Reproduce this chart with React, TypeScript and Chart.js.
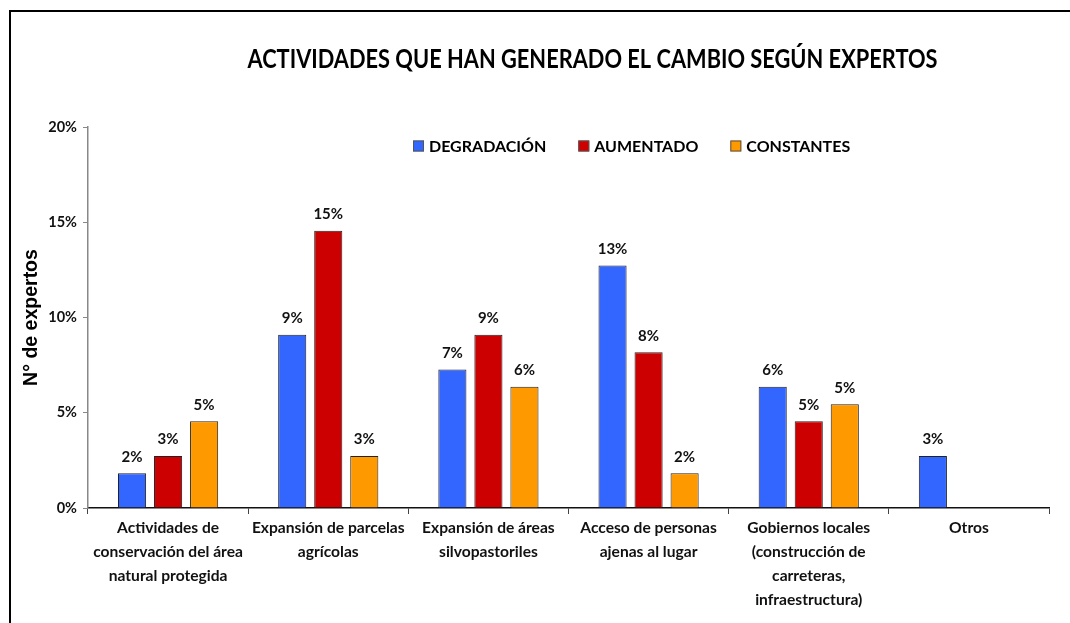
import React, { useEffect, useRef } from "react";
import { Chart, registerables } from "chart.js";

Chart.register(...registerables);

const TITLE = "ACTIVIDADES QUE HAN GENERADO EL CAMBIO SEGÚN EXPERTOS";
const Y_TITLE = "N° de expertos";

const categories: string[][] = [
  ["Actividades de", "conservación del área", "natural protegida"],
  ["Expansión de parcelas", "agrícolas"],
  ["Expansión de áreas", "silvopastoriles"],
  ["Acceso de personas", "ajenas al lugar"],
  ["Gobiernos locales", "(construcción de", "carreteras,", "infraestructura)"],
  ["Otros"],
];

const seriesNames = ["DEGRADACIÓN", "AUMENTADO", "CONSTANTES"];
const seriesColors = ["#3366FF", "#CC0000", "#FF9900"];

const degradacion: (number | null)[] = [1.82, 9.09, 7.27, 12.73, 6.36, 2.73];
const aumentado: (number | null)[] = [2.73, 14.55, 9.09, 8.18, 4.55, null];
const constantes: (number | null)[] = [4.55, 2.73, 6.36, 1.82, 5.45, null];

const yTicks = [0, 5, 10, 15, 20];

const CAL = "Lato, 'Open Sans', sans-serif";

const labelsPlugin = {
  id: "barLabels",
  afterDatasetsDraw(chart: any) {
    const ctx = chart.ctx;
    ctx.save();
    ctx.font = `bold 15px ${CAL}`;
    ctx.fillStyle = "#111";
    ctx.textAlign = "center";
    ctx.textBaseline = "bottom";
    chart.data.datasets.forEach((ds: any, i: number) => {
      const meta = chart.getDatasetMeta(i);
      meta.data.forEach((bar: any, j: number) => {
        const v = ds.data[j];
        if (v === null || v === undefined) return;
        ctx.fillText(Math.round(v) + "%", bar.x, bar.y - 9);
      });
    });
    ctx.restore();
  },
  afterDraw(chart: any) {
    const ctx = chart.ctx;
    const area = chart.chartArea;
    ctx.save();
    // Title (condensed to match the reference width)
    ctx.font = `bold 26px ${CAL}`;
    ctx.fillStyle = "#000";
    ctx.textAlign = "center";
    ctx.textBaseline = "middle";
    const tw = ctx.measureText(TITLE).width;
    const sx = 690 / tw;
    const cx = area.left + (area.right - area.left) * 0.525;
    ctx.translate(cx, 60);
    ctx.scale(sx, 1);
    ctx.fillText(TITLE, 0, 0);
    ctx.setTransform(1, 0, 0, 1, 0, 0);
    // Legend
    ctx.font = `bold 16px ${CAL}`;
    ctx.textAlign = "left";
    let x = area.left + 325;
    const y = area.top + 19;
    chart.data.datasets.forEach((ds: any) => {
      ctx.fillStyle = ds.backgroundColor;
      ctx.fillRect(x, y - 5.5, 11, 11);
      ctx.strokeStyle = "#555";
      ctx.lineWidth = 1;
      ctx.strokeRect(x + 0.5, y - 5, 10, 10);
      ctx.fillStyle = "#000";
      ctx.fillText(ds.label, x + 16, y + 1);
      x += 16 + ctx.measureText(ds.label).width + 32;
    });
    ctx.restore();
  },
};

export default function App() {
  const ref = useRef<HTMLCanvasElement>(null);
  useEffect(() => {
    if (!ref.current) return;
    const mk = (name: string, data: (number | null)[], color: string) => ({
      label: name,
      data,
      backgroundColor: color,
      borderColor: "#222",
      borderWidth: 1,
      barPercentage: 0.78,
      categoryPercentage: 0.675,
    });
    const chart = new Chart(ref.current, {
      type: "bar",
      data: {
        labels: categories,
        datasets: [
          mk(seriesNames[0], degradacion, seriesColors[0]),
          mk(seriesNames[1], aumentado, seriesColors[1]),
          mk(seriesNames[2], constantes, seriesColors[2]),
        ],
      },
      options: {
        animation: false,
        responsive: false,
        maintainAspectRatio: false,
        layout: { padding: { left: 20, top: 127, right: 21, bottom: 0 } },
        plugins: {
          legend: { display: false },
          title: { display: false },
          tooltip: { enabled: false },
        },
        scales: {
          x: {
            grid: {
              drawOnChartArea: false,
              drawTicks: true,
              tickLength: 6,
              color: "#444",
              offset: true,
            },
            border: { color: "#111", width: 1.5 },
            ticks: {
              color: "#111",
              font: { family: CAL, size: 15.6, weight: "bold", lineHeight: 1.54 },
              maxRotation: 0,
              autoSkip: false,
              padding: 2,
            },
            afterFit(scale: any) {
              scale.height = 115;
            },
          },
          y: {
            min: 0,
            max: 20,
            afterBuildTicks(scale: any) {
              scale.ticks = yTicks.map((v) => ({ value: v }));
            },
            grid: {
              drawOnChartArea: false,
              drawTicks: true,
              tickLength: 5,
              color: "#888",
            },
            border: { color: "#888", width: 1.5 },
            ticks: {
              color: "#111",
              font: { family: CAL, size: 14.5, weight: "bold" },
              padding: 6,
              callback: (v: any) => v + "%",
            },
            title: {
              display: true,
              text: Y_TITLE,
              color: "#000",
              font: { family: "'Liberation Sans', Arial, sans-serif", size: 19.5, weight: "bold" },
              padding: { top: 0, bottom: 0 },
            },
            afterFit(scale: any) {
              scale.width = 68;
            },
          },
        },
      },
      plugins: [labelsPlugin],
    });
    return () => chart.destroy();
  }, []);
  return (
    <div style={{ position: "absolute", left: 0, top: 0, width: 1070, height: 623, background: "#fff", overflow: "hidden" }}>
      <div
        style={{
          position: "absolute",
          left: 9,
          top: 10,
          width: 1100,
          height: 700,
          borderLeft: "2px solid #000",
          borderTop: "2px solid #000",
        }}
      />
      <canvas ref={ref} width={1070} height={623} style={{ position: "absolute", left: 0, top: 0 }} />
    </div>
  );
}
